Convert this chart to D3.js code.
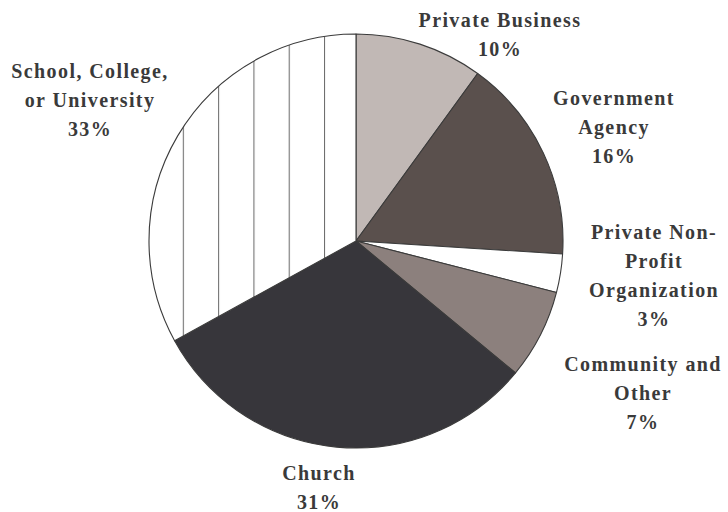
<!DOCTYPE html>
<html>
<head>
<meta charset="utf-8">
<script src="https://cdn.jsdelivr.net/npm/d3@7/dist/d3.min.js"></script>
<style>
  html, body { margin: 0; padding: 0; background: #fff; }
  svg { display: block; }
  .lbl { font-family: "Liberation Serif", "Times New Roman", serif; font-weight: bold; font-size: 20px; fill: #3a3a3a; letter-spacing: 1.4px; }
</style>
</head>
<body>
<svg id="chart" width="728" height="512"></svg>
<script>
// Where the respondents' programs are housed
const categories = ["Private Business", "Government Agency", "Private Non-Profit Organization", "Community and Other", "Church", "School, College, or University"];
const shares = [10, 16, 3, 7, 31, 33];
const labelLines = [
  ["Private Business", "10%"],
  ["Government", "Agency", "16%"],
  ["Private Non-", "Profit", "Organization", "3%"],
  ["Community and", "Other", "7%"],
  ["Church", "31%"],
  ["School, College,", "or University", "33%"]
];
const fills = ["#c1b8b5", "#5a504d", "#ffffff", "#8c807d", "#37363b", "url(#stripes)"];
// label anchor (centre x, first baseline y)
const labelPos = [[500, 27], [614, 105], [654, 239], [643, 371], [319, 480], [90, 78]];

const svg = d3.select("#chart");
const cx = 356, cy = 241, r = 207;

const pie = d3.pie().sort(null).value(d => d)(shares);
const arc = d3.arc().innerRadius(0).outerRadius(r);

const defs = svg.append("defs");
// vertical-stripe hatch for the school slice
const pat = defs.append("pattern")
  .attr("id", "stripes")
  .attr("patternUnits", "userSpaceOnUse")
  .attr("width", 35.3).attr("height", 10)
  .attr("x", cx - 35.3 * 5 + 0.3);
pat.append("rect").attr("width", 35.3).attr("height", 10).attr("fill", "#fff");
pat.append("line")
  .attr("x1", 0.5).attr("x2", 0.5).attr("y1", 0).attr("y2", 10)
  .attr("stroke", "#6e6e6e").attr("stroke-width", 1.1);

const g = svg.append("g").attr("transform", `translate(${cx},${cy})`);
g.selectAll("path.slice")
  .data(pie)
  .join("path")
  .attr("class", "slice")
  .attr("d", arc)
  .attr("fill", (d, i) => fills[i])
  .attr("stroke", "#3b3b3b")
  .attr("stroke-width", 1.1)
  .attr("stroke-linejoin", "round");

const lineGap = 29;
labelLines.forEach((lines, i) => {
  const t = svg.append("text")
    .attr("class", "lbl")
    .attr("text-anchor", "middle")
    .attr("x", labelPos[i][0])
    .attr("y", labelPos[i][1]);
  lines.forEach((s, k) => {
    t.append("tspan")
      .attr("x", labelPos[i][0])
      .attr("y", labelPos[i][1] + k * lineGap)
      .text(s);
  });
});
</script>
</body>
</html>
